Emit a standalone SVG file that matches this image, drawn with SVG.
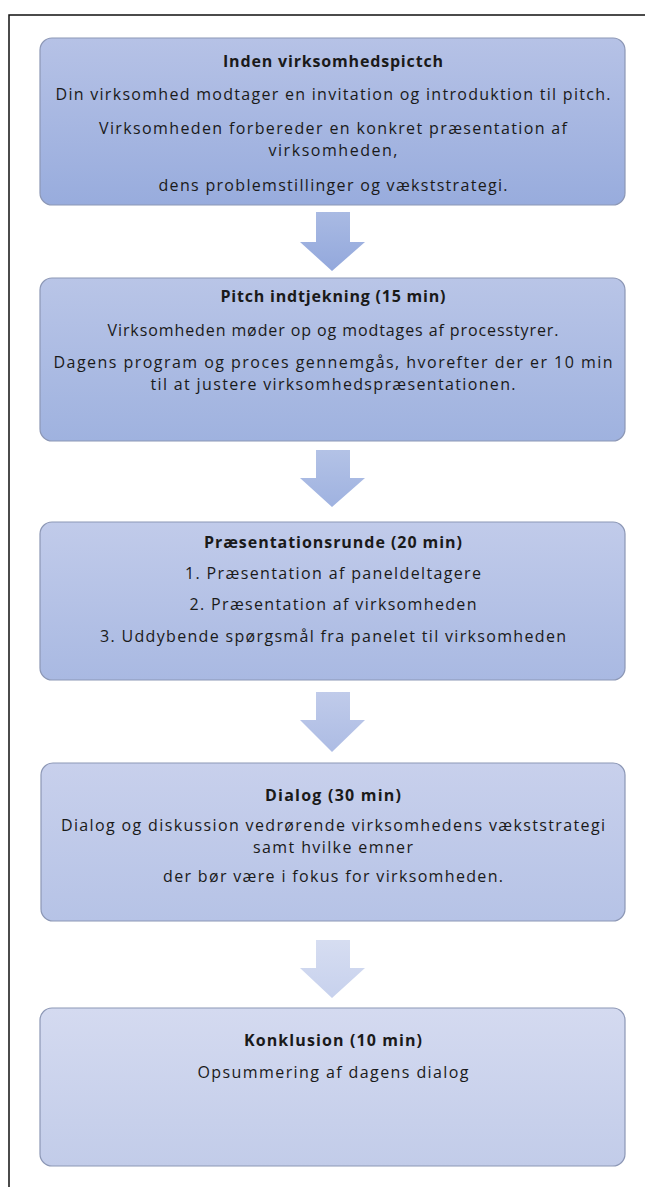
<svg xmlns="http://www.w3.org/2000/svg" width="650" height="1187" viewBox="0 0 650 1187">
<defs>
<linearGradient id="g1" x1="0" y1="0" x2="0" y2="1"><stop offset="0" stop-color="#b6c2e6"/><stop offset="1" stop-color="#98acdd"/></linearGradient>
<linearGradient id="g2" x1="0" y1="0" x2="0" y2="1"><stop offset="0" stop-color="#b9c5e7"/><stop offset="1" stop-color="#9fb2df"/></linearGradient>
<linearGradient id="g3" x1="0" y1="0" x2="0" y2="1"><stop offset="0" stop-color="#c1cbea"/><stop offset="1" stop-color="#a9b9e2"/></linearGradient>
<linearGradient id="g4" x1="0" y1="0" x2="0" y2="1"><stop offset="0" stop-color="#c8d0ec"/><stop offset="1" stop-color="#b6c3e6"/></linearGradient>
<linearGradient id="g5" x1="0" y1="0" x2="0" y2="1"><stop offset="0" stop-color="#d4daf0"/><stop offset="1" stop-color="#c2cce9"/></linearGradient>
<linearGradient id="a1" x1="0" y1="0" x2="0" y2="1"><stop offset="0" stop-color="#a9bae3"/><stop offset="1" stop-color="#93a8dc"/></linearGradient>
<linearGradient id="a2" x1="0" y1="0" x2="0" y2="1"><stop offset="0" stop-color="#b3c2e6"/><stop offset="1" stop-color="#9fb2e0"/></linearGradient>
<linearGradient id="a3" x1="0" y1="0" x2="0" y2="1"><stop offset="0" stop-color="#c0cbea"/><stop offset="1" stop-color="#adbce4"/></linearGradient>
<linearGradient id="a4" x1="0" y1="0" x2="0" y2="1"><stop offset="0" stop-color="#d6ddf1"/><stop offset="1" stop-color="#c7d1ed"/></linearGradient>
</defs>
<style>
.box{stroke:#8c97b5;stroke-width:1.2}
text{font-family:"Open Sans","Liberation Sans",Arial,sans-serif;font-size:16px;fill:#1a1a1a;text-anchor:middle}
.t{font-weight:bold;font-size:16px}
</style>
<rect x="0" y="0" width="650" height="1187" fill="#ffffff"/>
<g id="frame" stroke="#111" stroke-width="1.5" fill="none">
<path d="M9,1187 V15 H645"/>
</g>
<g id="connectors">
<path d="M316,212 H350 V242 H365 L332,271 L300,242 H316 Z" fill="url(#a1)"/>
<path d="M316,450 H350 V478 H365 L332,507 L300,478 H316 Z" fill="url(#a2)"/>
<path d="M316,692 H350 V720 H365 L332,752 L300,720 H316 Z" fill="url(#a3)"/>
<path d="M316,940 H350 V968 H365 L332,998 L300,968 H316 Z" fill="url(#a4)"/>
</g>
<g id="n1">
<rect class="box" x="40" y="38" width="585" height="167" rx="12" fill="url(#g1)"/>
<text class="t" x="333" y="67" textLength="220">Inden virksomhedspictch</text>
<text x="333" y="100" textLength="555">Din virksomhed modtager en invitation og introduktion til pitch.</text>
<text x="333" y="134" textLength="468">Virksomheden forbereder en konkret præsentation af</text>
<text x="333" y="156" textLength="129">virksomheden,</text>
<text x="333" y="191" textLength="349">dens problemstillinger og vækststrategi.</text>
</g>
<g id="n2">
<rect class="box" x="40" y="278" width="585" height="163" rx="12" fill="url(#g2)"/>
<text class="t" x="333" y="302" textLength="225">Pitch indtjekning (15 min)</text>
<text x="333" y="336" textLength="451">Virksomheden møder op og modtages af processtyrer.</text>
<text x="333" y="368" textLength="559">Dagens program og proces gennemgås, hvorefter der er 10 min</text>
<text x="333" y="390" textLength="365">til at justere virksomhedspræsentationen.</text>
</g>
<g id="n3">
<rect class="box" x="40" y="522" width="585" height="158" rx="12" fill="url(#g3)"/>
<text class="t" x="333" y="548" textLength="258">Præsentationsrunde (20 min)</text>
<text x="333" y="579" textLength="296">1. Præsentation af paneldeltagere</text>
<text x="333" y="610" textLength="287">2. Præsentation af virksomheden</text>
<text x="333" y="642" textLength="466">3. Uddybende spørgsmål fra panelet til virksomheden</text>
</g>
<g id="n4">
<rect class="box" x="41" y="763" width="584" height="158" rx="12" fill="url(#g4)"/>
<text class="t" x="333" y="801" textLength="136">Dialog (30 min)</text>
<text x="333" y="831" textLength="544">Dialog og diskussion vedrørende virksomhedens vækststrategi</text>
<text x="333" y="853" textLength="160">samt hvilke emner</text>
<text x="333" y="882" textLength="340">der bør være i fokus for virksomheden.</text>
</g>
<g id="n5">
<rect class="box" x="40" y="1008" width="585" height="158" rx="12" fill="url(#g5)"/>
<text class="t" x="333" y="1046" textLength="178">Konklusion (10 min)</text>
<text x="333" y="1078" textLength="271">Opsummering af dagens dialog</text>
</g>
</svg>
